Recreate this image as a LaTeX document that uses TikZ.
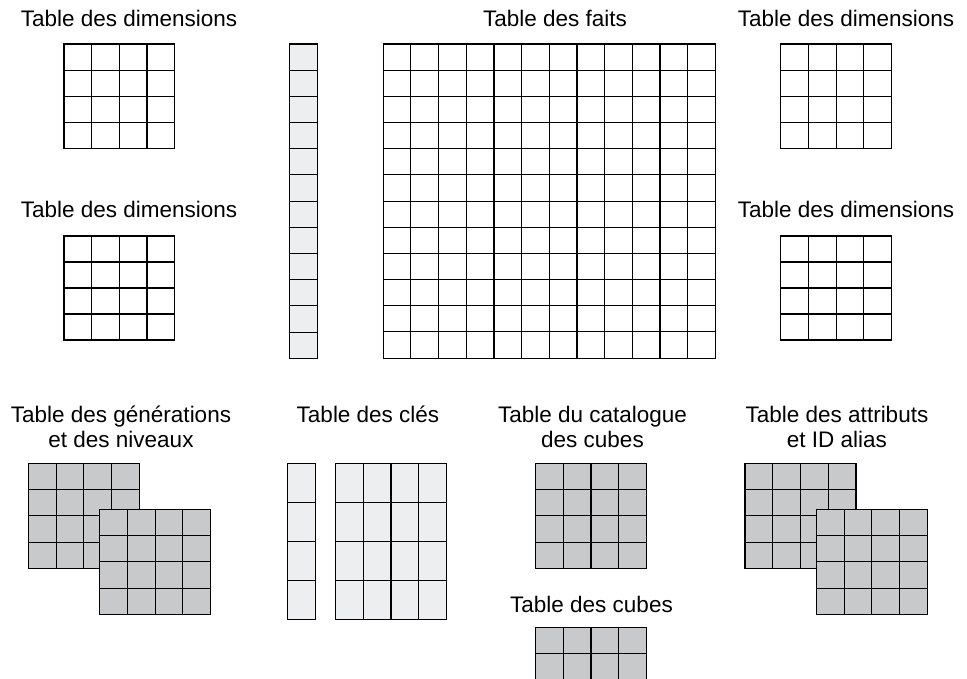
\documentclass[tikz,border=0pt]{standalone}
\usepackage{fontspec}
\setmainfont{Liberation Sans}
\definecolor{cellgray}{HTML}{C8C9CB}
\definecolor{celllight}{HTML}{EDEEF0}
\newcommand\tgrid[7]{% x0 y0 cols rows cw ch fill
  \pgfmathsetmacro\gxa{#1+#3*#5}\pgfmathsetmacro\gya{#2+#4*#6}
  \fill[#7] (#1,#2) rectangle (\gxa,\gya);
  \foreach \i in {1,...,#3}{\pgfmathsetmacro\gx{#1+\i*#5}\draw[gridline] (\gx,#2) -- (\gx,\gya);}
  \foreach \j in {1,...,#4}{\pgfmathsetmacro\gy{#2+\j*#6}\draw[gridline] (#1,\gy) -- (\gxa,\gy);}
  \draw[gridline] (#1,#2) rectangle (\gxa,\gya);
}
\begin{document}
\begin{tikzpicture}[x=1pt,y=-1pt,
  gridline/.style={draw=black,line width=1.05pt},
  lbl/.style={anchor=base,inner sep=0pt,font=\fontsize{22.5}{25}\selectfont}]
\useasboundingbox (0,0) rectangle (967,678);
\clip (0,0) rectangle (967,678);
% labels
\node[lbl] (l1) at (129,26) {Table des dimensions};
\node[lbl] (l2) at (129,217) {Table des dimensions};
\node[lbl] (l3) at (555,26) {Table des faits};
\node[lbl] (l4) at (846,26) {Table des dimensions};
\node[lbl] (l5) at (846,217) {Table des dimensions};
\node[lbl] (l6a) at (121,422) {Table des générations};
\node[lbl] (l6b) at (121,447) {et des niveaux};
\node[lbl] (l7) at (368,422) {Table des clés};
\node[lbl] (l8a) at (592.5,422) {Table du catalogue};
\node[lbl] (l8b) at (592.5,447) {des cubes};
\node[lbl] (l9a) at (837,422) {Table des attributs};
\node[lbl] (l9b) at (837,447) {et ID alias};
\node[lbl] (l10) at (591.5,612.5) {Table des cubes};
% top tables
\tgrid{64}{44}{4}{4}{27.67}{26.17}{white}
\tgrid{64}{236}{4}{4}{27.67}{26.0}{white}
\tgrid{780.7}{44}{4}{4}{27.75}{26.17}{white}
\tgrid{780.7}{236}{4}{4}{27.75}{26.0}{white}
\tgrid{289.3}{44}{1}{12}{28}{26.19}{celllight}
\tgrid{383.3}{44}{12}{12}{27.67}{26.17}{white}
% bottom tables
\tgrid{28.3}{463.3}{4}{4}{27.75}{26.25}{cellgray}
\tgrid{99.7}{509.3}{4}{4}{27.75}{26.25}{cellgray}
\tgrid{287.3}{463.3}{1}{4}{28}{39}{celllight}
\tgrid{335.3}{463.3}{4}{4}{27.85}{39}{celllight}
\tgrid{535.3}{463.3}{4}{4}{27.85}{26.25}{cellgray}
\tgrid{535.3}{627.3}{4}{4}{27.85}{26.25}{cellgray}
\tgrid{745}{463.3}{4}{4}{27.75}{26.25}{cellgray}
\tgrid{816.3}{509.3}{4}{4}{27.75}{26.25}{cellgray}
\end{tikzpicture}
\end{document}
